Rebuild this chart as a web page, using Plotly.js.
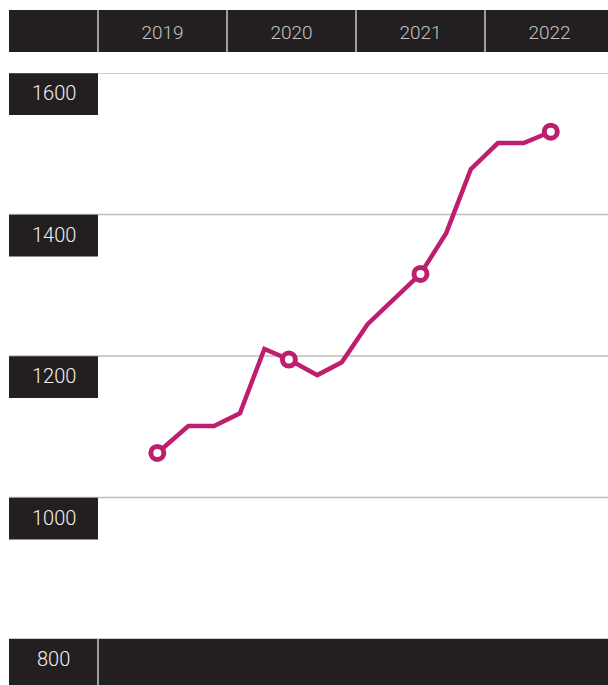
<!DOCTYPE html>
<html>
<head>
<meta charset="utf-8">
<script src="https://cdn.plot.ly/plotly-3.0.1.min.js"></script>
<style>
  html, body { margin: 0; padding: 0; background: #ffffff; }
  #chart { width: 608px; height: 685px; }
</style>
</head>
<body>
<div id="chart"></div>
<script>
// ---- data ----
const years = ['2019', '2020', '2021', '2022'];
const yearStarts = [2019, 2020, 2021, 2022];
const yTicks = [800, 1000, 1200, 1400, 1600];
const periods = [2019.46, 2019.70, 2019.90, 2020.10, 2020.29, 2020.48, 2020.70, 2020.89,
                 2021.09, 2021.30, 2021.50, 2021.70, 2021.89, 2022.10, 2022.30, 2022.51];
const values  = [1063, 1101, 1101, 1119, 1210, 1195, 1173, 1191,
                 1245, 1281, 1316, 1374, 1464, 1501, 1501, 1517];
const highlighted = [true, false, false, false, false, true, false, false,
                     false, false, true, false, false, false, false, true];

// ---- styling ----
const DARK = '#231f20';
const MAGENTA = '#bd1f6e';
const GRID = '#bdbdbd';
const DIVIDER = '#c8c8c8';
const FONT = 'Roboto, "Open Sans", sans-serif';

const W = 608, H = 685;
const M = {l: 98, r: 0, t: 73, b: 46};
const plotW = W - M.l - M.r;
const plotH = H - M.t - M.b;
const leftEdge = (9 - M.l) / plotW;          // paper x of the left label column
const labelCenter = (53.5 - M.l) / plotW;    // paper x of label column center
const headerBottom = 1 + (M.t - 52) / plotH;
const headerTop = 1 + (M.t - 10) / plotH;
const footerBottom = -M.b / plotH;
const boxDepth = 42 / plotH * (yTicks[yTicks.length-1] - yTicks[0]); // value units

const xRange = [yearStarts[0], yearStarts[0] + plotW / 129];

const shapes = [];
// header bar
shapes.push({type: 'rect', xref: 'paper', yref: 'paper', x0: leftEdge, x1: 1,
  y0: headerBottom, y1: headerTop, fillcolor: DARK, line: {width: 0}, layer: 'below'});
// header dividers: at left column edge and each year boundary
shapes.push({type: 'line', xref: 'paper', yref: 'paper', x0: 0, x1: 0,
  y0: headerBottom, y1: headerTop, line: {color: DIVIDER, width: 1.5}});
yearStarts.slice(1).forEach(ys => {
  shapes.push({type: 'line', xref: 'x', yref: 'paper', x0: ys, x1: ys,
    y0: headerBottom, y1: headerTop, line: {color: DIVIDER, width: 1.5}});
});
// footer bar at lowest tick
shapes.push({type: 'rect', xref: 'paper', yref: 'paper', x0: leftEdge, x1: 1,
  y0: footerBottom, y1: 0, fillcolor: DARK, line: {width: 0}, layer: 'below'});
shapes.push({type: 'line', xref: 'paper', yref: 'paper', x0: 0, x1: 0,
  y0: footerBottom, y1: 0, line: {color: DIVIDER, width: 1.5}});
// gridlines and label boxes
yTicks.forEach((v, i) => {
  shapes.push({type: 'line', xref: 'paper', yref: 'y', x0: leftEdge, x1: 1,
    y0: v, y1: v, line: {color: GRID, width: 1.5}, layer: 'below'});
  if (i > 0) {
    shapes.push({type: 'rect', xref: 'paper', yref: 'y', x0: leftEdge, x1: 0,
      y0: v - boxDepth, y1: v - 0.5, fillcolor: DARK, line: {width: 0}, layer: 'below'});
  }
});

const annotations = yTicks.map(v => ({
  xref: 'paper', yref: 'y', x: labelCenter, y: v, yshift: -20,
  xanchor: 'center', yanchor: 'middle', showarrow: false,
  text: String(v), font: {family: FONT, size: 20, color: '#f2f2f2', weight: 300}
}));

const traces = [
  {
    x: periods, y: values, type: 'scatter', mode: 'lines',
    line: {color: MAGENTA, width: 4.5}, hoverinfo: 'skip'
  },
  {
    x: periods.filter((_, i) => highlighted[i]),
    y: values.filter((_, i) => highlighted[i]),
    type: 'scatter', mode: 'markers',
    marker: {symbol: 'circle', size: 13, color: '#ffffff', line: {color: MAGENTA, width: 5}},
    hoverinfo: 'skip'
  }
];

const layout = {
  width: W, height: H,
  margin: M,
  paper_bgcolor: '#ffffff', plot_bgcolor: 'rgba(0,0,0,0)',
  showlegend: false,
  xaxis: {
    range: xRange, side: 'top', fixedrange: true,
    tickvals: yearStarts.map(y => y + 0.5), ticktext: years,
    ticks: '', ticklabelstandoff: 29,
    tickfont: {family: FONT, size: 19, color: '#c4c4c4', weight: 300},
    showgrid: false, zeroline: false, showline: false
  },
  yaxis: {
    range: [yTicks[0], yTicks[yTicks.length - 1]], fixedrange: true,
    showticklabels: false, ticks: '', showgrid: false, zeroline: false, showline: false
  },
  shapes: shapes,
  annotations: annotations
};

Plotly.newPlot('chart', traces, layout, {displayModeBar: false, staticPlot: true});
</script>
</body>
</html>
